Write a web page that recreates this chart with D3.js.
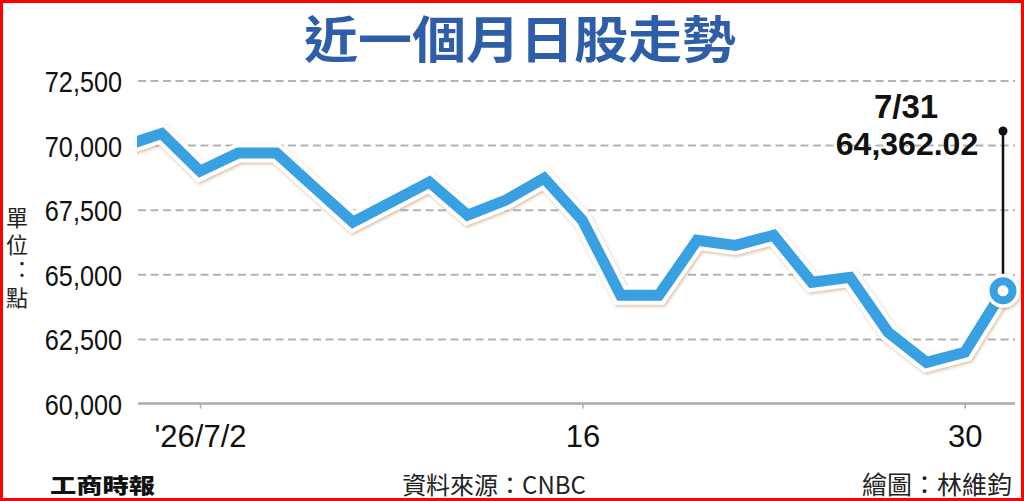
<!DOCTYPE html>
<html><head><meta charset="utf-8">
<script src="https://cdn.jsdelivr.net/npm/d3@7"></script>
<style>
html,body{margin:0;padding:0;background:#fff;}
svg{display:block;}
.vert{writing-mode:vertical-rl;text-orientation:upright;font-feature-settings:"vert" 0,"vrt2" 0;}
</style></head><body>
<svg id="chart" width="1024" height="501"></svg>
<script>
// ---- data ----
const dates = ["6/30","7/1","7/2","7/3","7/6","7/7","7/8","7/9","7/10","7/13","7/14","7/15","7/16","7/17","7/20","7/21","7/22","7/23","7/24","7/27","7/28","7/29","7/30","7/31"];
const values = [69960,70450,68990,69690,69690,68350,67020,67790,68570,67290,67870,68720,67090,64190,64190,66320,66120,66510,64690,64880,62750,61590,61980,64362.02];
const yTicks = [60000,62500,65000,67500,70000,72500];
const xTickDates = ["7/2","7/16","7/30"];
const xTickLabels = ["'26/7/2","16","30"];
const titleText = "近一個月日股走勢";
const unitText = "單位：點";
const lastDateLabel = "7/31";
const lastValueLabel = "64,362.02";
const sourceText = "資料來源：CNBC";
const creditText = "繪圖：林維鈞";
const logoText = "工商時報";

// ---- layout ----
const svg = d3.select("#chart");
const plotL = 138, plotR = 1015;
const x = d3.scaleLinear().domain([0, dates.length - 1]).range([123.5, 1003]);
const y = d3.scaleLinear().domain([60000, 72500]).range([403.5, 80.5]);

const defs = svg.append("defs");
const f = defs.append("filter").attr("id","sh").attr("x","-10%").attr("y","-10%").attr("width","120%").attr("height","130%");
f.append("feDropShadow").attr("dx",1.2).attr("dy",1.8).attr("stdDeviation",1.4)
  .attr("flood-color","#b07a48").attr("flood-opacity",0.45);
defs.append("clipPath").attr("id","clip").append("rect")
  .attr("x",137).attr("y",0).attr("width",1024-137).attr("height",501);

// title
svg.append("text").attr("x",520).attr("y",58).attr("text-anchor","middle")
  .attr("font-family","'Noto Sans CJK TC','Noto Sans CJK SC',sans-serif")
  .attr("font-weight",700).attr("font-size",50).attr("fill","#2f5ea8")
  .attr("textLength",432).attr("lengthAdjust","spacingAndGlyphs").text(titleText);

// gridlines
const grid = svg.append("g").attr("transform",`translate(${plotL},0)`)
  .call(d3.axisLeft(y).tickValues(yTicks.filter(v => v > 60000)).tickSize(-(plotR - plotL)).tickFormat(""));
grid.select(".domain").remove();
grid.selectAll("line").attr("stroke","#b3b3b3").attr("stroke-width",2).attr("stroke-dasharray","8,4.5");

// y labels
const yAx = svg.append("g").attr("transform",`translate(${plotL},0)`)
  .call(d3.axisLeft(y).tickValues(yTicks).tickSize(0).tickPadding(16).tickFormat(d3.format(",")));
yAx.select(".domain").remove();
yAx.selectAll("text").attr("font-family","'Liberation Sans',Arial,sans-serif")
  .attr("font-size",29).attr("fill","#111").attr("dy","0.38em")
  .each(function(){ const w = this.getComputedTextLength(); d3.select(this).attr("textLength", w*0.87).attr("lengthAdjust","spacingAndGlyphs"); });

// x axis baseline
svg.append("line").attr("x1",plotL).attr("x2",plotR).attr("y1",y(60000)).attr("y2",y(60000))
  .attr("stroke","#aaa").attr("stroke-width",2.5);
const xIdx = xTickDates.map(d => dates.indexOf(d));
const xAx = svg.append("g").attr("transform",`translate(0,${y(60000)})`)
  .call(d3.axisBottom(x).tickValues(xIdx).tickSize(5).tickPadding(16)
    .tickFormat(d => xTickLabels[xIdx.indexOf(d)]));
xAx.select(".domain").remove();
xAx.selectAll("line").attr("stroke","#aaa").attr("stroke-width",1.5);
xAx.selectAll("text").attr("font-family","'Liberation Sans',Arial,sans-serif")
  .attr("font-size",31).attr("fill","#111");

// y unit label (vertical text)
svg.append("text").attr("class","vert").attr("x",17).attr("y",207)
  .attr("font-family","'Noto Sans CJK TC',sans-serif").attr("font-size",22).attr("fill","#222")
  .attr("letter-spacing",4.5).text(unitText);

// line
const line = d3.line().x((d,i)=>x(i)).y(d=>y(d));
const lg = svg.append("g").attr("clip-path","url(#clip)");
lg.append("path").datum(values).attr("d",line).attr("fill","none")
  .attr("stroke","#fff").attr("stroke-width",19).attr("stroke-linejoin","miter").attr("stroke-linecap","round")
  .attr("filter","url(#sh)");
lg.append("path").datum(values).attr("d",line).attr("fill","none")
  .attr("stroke","#39a0e2").attr("stroke-width",11).attr("stroke-linejoin","miter").attr("stroke-linecap","round");

// annotation
const li = values.length - 1;
const lx = x(li), ly = y(values[li]);
svg.append("line").attr("x1",lx).attr("x2",lx).attr("y1",131).attr("y2",ly-12)
  .attr("stroke","#111").attr("stroke-width",2.5);
svg.append("circle").attr("cx",lx).attr("cy",131).attr("r",4.5).attr("fill","#111");
svg.append("circle").attr("cx",lx).attr("cy",ly).attr("r",17).attr("fill","#fff").attr("filter","url(#sh)");
svg.append("circle").attr("cx",lx).attr("cy",ly).attr("r",9.5).attr("fill","#fff")
  .attr("stroke","#39a0e2").attr("stroke-width",8);

svg.append("text").attr("x",906).attr("y",118).attr("text-anchor","middle")
  .attr("font-family","'Liberation Sans',Arial,sans-serif").attr("font-weight",700)
  .attr("font-size",33).attr("fill","#111").text(lastDateLabel);
svg.append("text").attr("x",907).attr("y",155).attr("text-anchor","middle")
  .attr("font-family","'Liberation Sans',Arial,sans-serif").attr("font-weight",700)
  .attr("font-size",32).attr("fill","#111").text(lastValueLabel);

// footer
svg.append("text").attr("x",50).attr("y",493)
  .attr("font-family","'Noto Sans CJK TC',sans-serif").attr("font-weight",900)
  .attr("font-size",21).attr("fill","#111").attr("textLength",105).attr("lengthAdjust","spacingAndGlyphs")
  .text(logoText);
svg.append("text").attr("x",494).attr("y",494).attr("text-anchor","middle")
  .attr("font-family","'Noto Sans CJK TC',sans-serif").attr("font-size",24).attr("fill","#222")
  .text(sourceText);
svg.append("text").attr("x",1012).attr("y",494).attr("text-anchor","end")
  .attr("font-family","'Noto Sans CJK TC',sans-serif").attr("font-size",25).attr("fill","#222")
  .text(creditText);

// border
svg.append("rect").attr("x",1.5).attr("y",1.5).attr("width",1021).attr("height",498)
  .attr("fill","none").attr("stroke","#f00").attr("stroke-width",3);
</script>
</body></html>
